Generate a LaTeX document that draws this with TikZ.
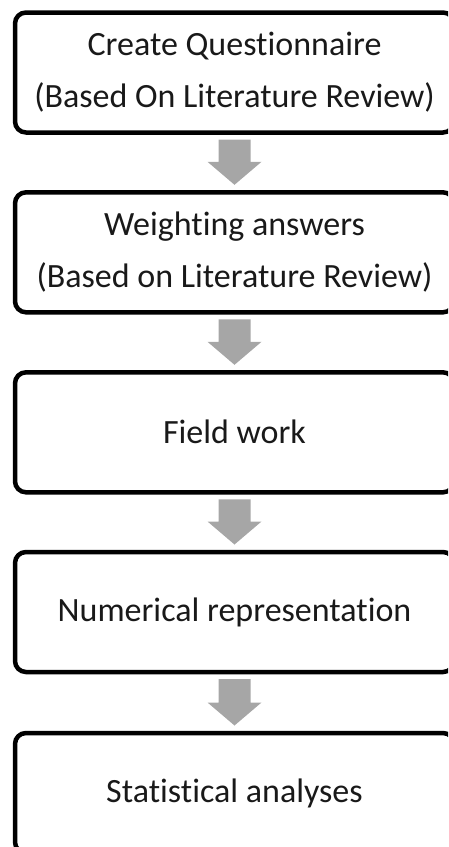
\documentclass[tikz,border=0pt]{standalone}
\usepackage{fontspec}
\setmainfont[Ligatures={NoCommon,NoContextual}]{Carlito}
\usetikzlibrary{calc}
\definecolor{arrowgray}{HTML}{A6A6A6}
\newcommand{\flowarrow}[2]{%
  \fill[arrowgray] ($(#1.south)+(-16,7)$) -- ($(#1.south)+(16,7)$)
    -- ($(#2.north)+(16,-30.5)$) -- ($(#2.north)+(27,-30.5)$)
    -- ($(#2.north)+(0,-7.5)$)
    -- ($(#2.north)+(-27,-30.5)$) -- ($(#2.north)+(-16,-30.5)$) -- cycle;}
\begin{document}
\begin{tikzpicture}[x=1pt,y=-1pt,
  stepbox/.style={draw=black, line width=4.5pt, rounded corners=11pt,
    minimum width=439pt, minimum height=120pt, inner sep=0pt, outer sep=0pt,
    align=center, font=\fontsize{34}{52}\selectfont, text=black!90}]
\useasboundingbox (0,0) rectangle (448,847);
\clip (0,0) rectangle (448,847);
\node[stepbox] (n1) at (234.5,72.5) {Create Questionnaire\\(Based On Literature Review)};
\node[stepbox] (n2) at (234.5,252.3) {Weighting answers\\(Based on Literature Review)};
\node[stepbox] (n3) at (234.5,432.3) {Field work};
\node[stepbox] (n4) at (234.5,612) {Numerical representation};
\node[stepbox] (n5) at (234.5,793) {Statistical analyses};
\flowarrow{n1}{n2}
\flowarrow{n2}{n3}
\flowarrow{n3}{n4}
\flowarrow{n4}{n5}
\end{tikzpicture}
\end{document}
